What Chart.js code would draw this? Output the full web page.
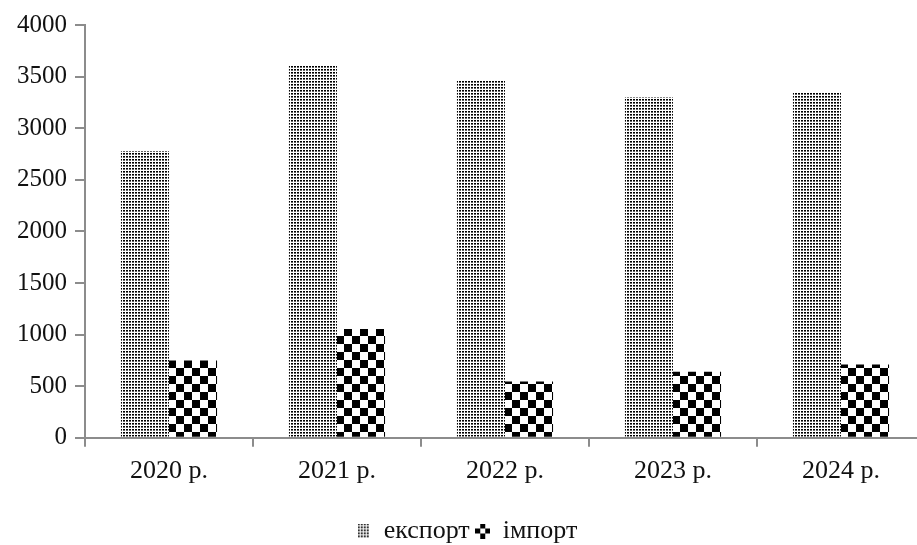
<!DOCTYPE html>
<html>
<head>
<meta charset="utf-8">
<script src="https://cdn.jsdelivr.net/npm/chart.js@4.4.0/dist/chart.umd.min.js"></script>
<style>
  body { margin: 0; background: #fff; overflow: hidden; }
  #wrap { width: 925px; height: 554px; }
</style>
</head>
<body>
<div id="wrap"><canvas id="trade"></canvas></div>
<script>
const years = ["2020 р.", "2021 р.", "2022 р.", "2023 р.", "2024 р."];
const exportVals = [2780, 3610, 3465, 3300, 3350];
const importVals = [750, 1055, 545, 640, 710];
const yTicks = [0, 500, 1000, 1500, 2000, 2500, 3000, 3500, 4000];

// fill patterns for the bars
function dotTile() {
  const c = document.createElement("canvas");
  c.width = 3; c.height = 3;
  const g = c.getContext("2d");
  g.fillStyle = "#fff";
  g.fillRect(0, 0, 3, 3);
  g.fillStyle = "#000";
  g.fillRect(0, 0, 2, 1);
  g.fillStyle = "#666";
  g.fillRect(0, 1, 2, 1);
  return c;
}
function checkPattern() {
  const s = 8;
  const c = document.createElement("canvas");
  c.width = s * 2; c.height = s * 2;
  const g = c.getContext("2d");
  g.fillStyle = "#fff";
  g.fillRect(0, 0, s * 2, s * 2);
  g.fillStyle = "#000";
  g.fillRect(0, 0, s, s);
  g.fillRect(s, s, s, s);
  return g.createPattern(c, "repeat");
}
const dotFill = document.createElement("canvas").getContext("2d").createPattern(dotTile(), "repeat");

// legend icons
function exportIcon() {
  const c = document.createElement("canvas");
  c.width = 12; c.height = 15;
  const g = c.getContext("2d");
  g.fillStyle = g.createPattern(dotTile(), "repeat");
  g.fillRect(0, 0, 12, 15);
  return c;
}
function importIcon() {
  const c = document.createElement("canvas");
  c.width = 15; c.height = 15;
  const g = c.getContext("2d");
  g.fillStyle = "#fff";
  g.fillRect(0, 0, 15, 15);
  g.fillStyle = "#000";
  [[1, 0], [0, 1], [2, 1], [1, 2]].forEach(([i, j]) => g.fillRect(i * 5, j * 5, 5, 5));
  return c;
}

const serif = "'Liberation Serif', 'Times New Roman', serif";

new Chart(document.getElementById("trade"), {
  type: "bar",
  data: {
    labels: years,
    datasets: [
      { label: "експорт", data: exportVals, backgroundColor: dotFill, borderWidth: 0, pointStyle: exportIcon() },
      { label: "імпорт", data: importVals, backgroundColor: checkPattern(), borderWidth: 0, pointStyle: importIcon() },
    ],
  },
  options: {
    responsive: true,
    maintainAspectRatio: false,
    animation: false,
    layout: { padding: { top: 25, left: 9, right: 0, bottom: 0 } },
    datasets: { bar: { categoryPercentage: 0.572, barPercentage: 1 } },
    plugins: {
      tooltip: { enabled: false },
      legend: {
        position: "bottom",
        labels: {
          color: "#111",
          font: { family: serif, size: 26 },
          usePointStyle: true,
          boxWidth: 14,
          boxHeight: 14,
          padding: 6,
        },
      },
    },
    scales: {
      x: {
        border: { color: "#8c8c8c", width: 2 },
        grid: { drawOnChartArea: false, color: "#8c8c8c", lineWidth: 2, tickLength: 9 },
        ticks: { color: "#111", font: { family: serif, size: 26 }, padding: 9 },
        afterFit: (axis) => { axis.height += 16; },
      },
      y: {
        min: 0,
        max: 4000,
        afterBuildTicks: (axis) => { axis.ticks = yTicks.map((v) => ({ value: v })); },
        border: { color: "#8c8c8c", width: 2 },
        grid: { drawOnChartArea: false, color: "#8c8c8c", lineWidth: 2, tickLength: 10 },
        ticks: {
          color: "#111",
          font: { family: serif, size: 25 },
          padding: 8,
          callback: (v) => String(v),
        },
      },
    },
  },
});
</script>
</body>
</html>
